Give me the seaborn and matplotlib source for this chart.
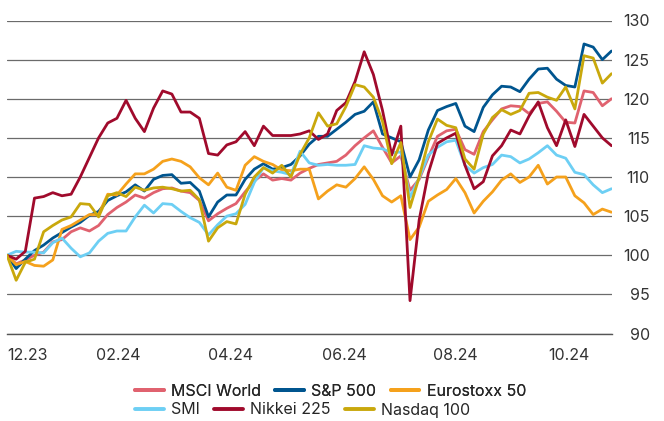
import pandas as pd
import matplotlib
matplotlib.use('Agg')
import matplotlib.pyplot as plt
import seaborn as sns

sns.set_style('white')
plt.rcParams['font.family'] = ['Inter', 'DejaVu Sans']

# index levels, rebased to 100 at 29.12.2023, read every 5 calendar days
start_date = '2023-12-29'
step = '5D'

msci_world = [100, 98.9, 99.4, 100, 100.4, 101.7, 102, 103, 103.5, 103.1,
              103.8, 105.2, 106.1, 106.8, 107.7, 107.3, 108, 108.5, 108.6, 108.2,
              108, 107, 104.4, 105.3, 106, 106.6, 108.1, 109.5, 110.4, 109.6,
              109.8, 109.6, 110.5, 111.1, 111.6, 111.8, 112, 112.8, 114, 115,
              115.9, 113.8, 111.8, 112.7, 108.3, 109.7, 112.5, 115.2, 115.9, 116.1,
              113.5, 112.9, 115.8, 117.3, 118.7, 119.1, 119, 118.1, 119.4, 119.6,
              118.4, 117, 116.9, 121, 120.8, 119.1, 120]
sp500 = [100, 98.3, 99.5, 100.6, 101.3, 102.2, 102.9, 103.6, 104.2, 105.1,
         105.6, 107, 107.6, 108.1, 109, 108.2, 109.7, 110.2, 110.3, 109.2,
         109.3, 108.2, 104.9, 106.8, 107.7, 107.7, 109.7, 111, 111.7, 111,
         111.2, 111.6, 112.7, 114.2, 115.2, 115.2, 116.1, 117, 118, 118.4,
         119.6, 115.5, 115, 114.5, 110, 112.2, 116, 118.5, 119, 119.4,
         116.5, 115.8, 118.9, 120.5, 121.6, 121.5, 120.9, 122.5, 123.8, 123.9,
         122.5, 121.7, 121.5, 127, 126.6, 125, 126.1]
eurostoxx50 = [100, 98.8, 99.2, 98.7, 98.6, 99.4, 103.3, 103.8, 104.5, 105.2,
               105.2, 107.8, 107.7, 109.1, 110.4, 110.4, 111, 112, 112.3, 112,
               111.3, 109.9, 109, 110.5, 108.7, 108.3, 111.5, 112.6, 112, 111.6,
               110.9, 110.8, 111, 111, 107.2, 108.2, 109, 108.7, 109.8, 111.3,
               109.7, 107.6, 106.8, 107.6, 102, 103.6, 106.9, 107.7, 108.4, 109.8,
               108, 105.4, 106.9, 108.1, 109.6, 110.4, 109.3, 110, 111.5, 109.1,
               110, 110, 107.6, 106.7, 105.2, 105.9, 105.5]
smi = [100, 100.5, 100.4, 100.4, 100.3, 101.6, 102.2, 100.9, 99.8, 100.3,
       101.8, 102.8, 103.1, 103.1, 104.9, 106.4, 105.4, 106.6, 106.5, 105.6,
       104.8, 104.2, 102.6, 103.9, 105, 105.3, 106.5, 109.3, 111.2, 110.8,
       110.6, 110.3, 113.3, 111.8, 111.5, 111.6, 111.5, 111.5, 111.6, 114,
       113.7, 113.6, 113.1, 113.2, 107.4, 109.9, 112.8, 113.8, 114.5, 114.7,
       111.5, 110.5, 111.2, 111.6, 112.8, 112.6, 111.8, 112.3, 113.1, 114,
       112.8, 112.4, 110.6, 110.3, 109, 108, 108.5]
nikkei225 = [100, 99.5, 100.5, 107.3, 107.5, 108, 107.6, 107.8, 110, 112.5,
             115, 116.9, 117.5, 119.8, 117.5, 115.8, 118.8, 121, 120.6, 118.3,
             118.3, 117.5, 113, 112.8, 114.1, 114.5, 115.8, 114, 116.5, 115.3,
             115.3, 115.3, 115.5, 115.9, 114.8, 115.5, 118.5, 119.5, 122.2, 126,
             123.1, 118.5, 112.8, 116.5, 94.2, 104.5, 110.5, 114.3, 115, 115.6,
             111.5, 108.5, 109.4, 112.7, 114, 116, 115.5, 117.8, 119.6, 116.3,
             114, 117.3, 113.9, 118, 116.5, 115, 114]
nasdaq100 = [100, 96.8, 99.1, 99.5, 103, 103.8, 104.5, 104.9, 106.6, 106.5,
             104.9, 107.6, 108, 107.5, 108.7, 108.3, 108.6, 108.7, 108.5, 108.2,
             108.3, 107.1, 101.8, 103.5, 104.3, 104, 107.8, 110, 111.2, 110.5,
             111.5, 110, 112.9, 115, 118.2, 116.5, 116.8, 119, 121.8, 121.5,
             120.2, 117.1, 111.7, 114.4, 106.1, 110, 114.5, 117.4, 116.6, 116.3,
             112.3, 111, 115.5, 117.6, 118.6, 118, 118.5, 120.7, 120.8, 120.2,
             119.8, 121.5, 118.7, 125.5, 125.2, 122, 123.2]

series_names = ['MSCI World', 'S&P 500', 'Eurostoxx 50', 'SMI', 'Nikkei 225', 'Nasdaq 100']
series_values = [msci_world, sp500, eurostoxx50, smi, nikkei225, nasdaq100]
colors = ['#E0626F', '#00558F', '#F5A11C', '#6DCFF4', '#A00A2C', '#C9A80C']

tick_dates = ['2023-12-29', '2024-02-28', '2024-04-29', '2024-06-30', '2024-08-30', '2024-10-31']
tick_labels = ['12.23', '02.24', '04.24', '06.24', '08.24', '10.24']
y_ticks = [90, 95, 100, 105, 110, 115, 120, 125, 130]

frames = []
for name, vals in zip(series_names, series_values):
    dates = pd.date_range(start_date, periods=len(vals), freq=step)
    frames.append(pd.DataFrame({'date': dates, 'value': vals, 'index': name}))
df = pd.concat(frames, ignore_index=True)

fig = plt.figure(figsize=(6.64, 4.21), dpi=100)
ax = fig.add_axes([7 / 664, 1 - 333.5 / 421, (611.5 - 7) / 664, 313 / 421])

sns.lineplot(data=df, x='date', y='value', hue='index', hue_order=series_names,
             palette=colors, linewidth=2.0, ax=ax)

handles, labels = ax.get_legend_handles_labels()
ax.get_legend().remove()

ax.set_ylim(90, 130)
ax.set_xlim(pd.Timestamp(start_date), df['date'].max())
ax.set_yticks(y_ticks)
ax.yaxis.tick_right()
ax.grid(axis='y', color='#6b6b6b', linewidth=0.9)
ax.grid(axis='x', visible=False)
for side in ['top', 'left', 'right']:
    ax.spines[side].set_visible(False)
ax.spines['bottom'].set_color('#555555')
ax.spines['bottom'].set_linewidth(1.0)

ax.set_xticks(pd.to_datetime(tick_dates))
ax.set_xticklabels(tick_labels)
ax.tick_params(axis='x', length=4.5, width=0.9, color='#555555', pad=6,
               labelsize=11.5, labelcolor='#333333')
ax.tick_params(axis='y', length=0, pad=27.5, labelsize=11.5, labelcolor='#333333')
for lab in ax.get_yticklabels():
    lab.set_ha('right')
ax.get_xticklabels()[0].set_ha('left')
ax.set_xlabel('')
ax.set_ylabel('')

# legend flows over two rows, both starting at the same left edge
leg_kw = dict(frameon=False, fontsize=11.5, handlelength=1.8, handletextpad=0.45,
              columnspacing=0.9, borderpad=0, borderaxespad=0, loc='center left')
for h in handles:
    h.set_linewidth(2.8)
leg1 = fig.legend(handles[:3], labels[:3], ncol=3, bbox_to_anchor=(135 / 664, 1 - 391 / 421), **leg_kw)
fig.add_artist(leg1)
fig.legend(handles[3:], labels[3:], ncol=3, bbox_to_anchor=(135 / 664, 1 - 410 / 421), **leg_kw)

fig.savefig('out.png', dpi=100)
